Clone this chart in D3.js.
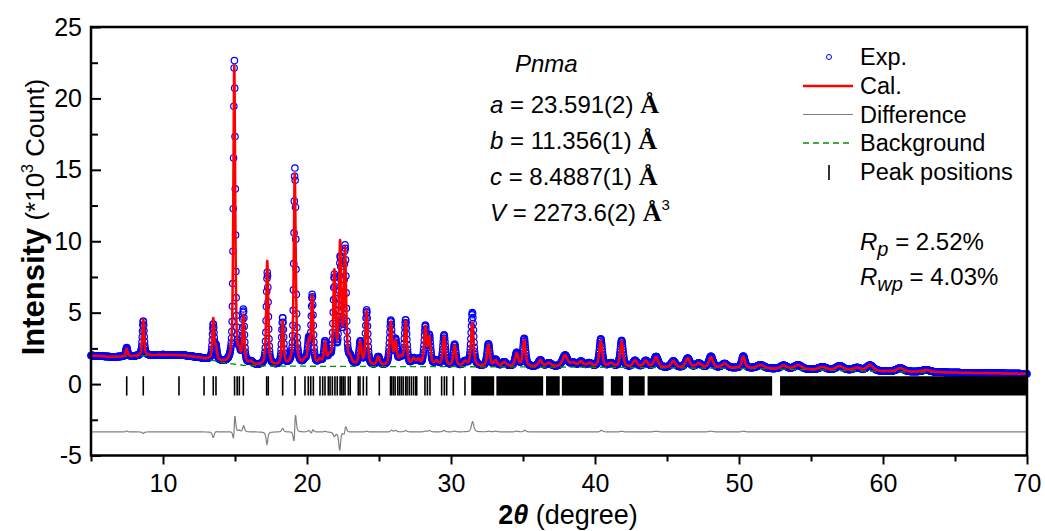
<!DOCTYPE html>
<html>
<head>
<meta charset="utf-8">
<script src="https://cdn.jsdelivr.net/npm/d3@7"></script>
<style>
  body { margin: 0; background: #fff; }
  svg { display: block; font-family: Arial, "Liberation Sans", sans-serif; }
</style>
</head>
<body>
<div id="chart"></div>
<script>
// axis ticks
const xMajorTicks = [10, 20, 30, 40, 50, 60, 70];
const xMinorTicks = [5, 15, 25, 35, 45, 55, 65];
const yMajorTicks = [-5, 0, 5, 10, 15, 20, 25];
const yMinorTicks = [-2.5, 2.5, 7.5, 12.5, 17.5, 22.5];

// background anchors (2theta, *10^3 counts)
const bgAngle = [5, 6.5, 8, 10, 11.5, 12.5, 13.5, 14.5, 15.5, 17, 20, 25, 30, 35, 40, 45, 50, 55, 60, 65, 70];
const bgLevel = [2.0, 1.9, 1.95, 2.05, 2.0, 1.85, 1.65, 1.45, 1.32, 1.27, 1.25, 1.23, 1.22, 1.2, 1.18, 1.14, 1.1, 1.0, 0.88, 0.8, 0.72];

const peakPos   = [7.48, 8.63, 13.49, 13.68, 14.95, 15.30, 15.58, 16.10, 17.24, 18.31, 19.15, 19.86, 20.12, 20.36, 20.90, 21.25, 21.55, 21.90, 22.30, 22.64, 23.00, 23.70, 24.14, 24.95, 25.82, 26.15, 26.50, 26.85, 27.40, 27.72, 28.22, 28.50, 29.00, 29.52, 30.25, 30.97, 31.48, 32.60, 33.10, 33.70, 34.56, 35.08, 36.20, 36.80, 37.92, 38.50, 39.03, 39.60, 40.40, 41.10, 41.85, 42.78, 43.52, 44.24, 45.44, 46.44, 47.20, 48.05, 49.00, 50.30, 51.5, 53.10, 54.10, 55.8, 57.00, 58.20, 59.10, 61.20, 63.0];
const peakObs   = [0.62, 2.45, 2.45, 0.9, 21.3, 0.7, 3.7, 0.2, 6.5, 3.3, 13.8, 0.3, 1.6, 4.8, 0.35, 1.55, 0.5, 6.1, 7.2, 8.1, 0.4, 1.6, 3.85, 0.6, 3.1, 1.7, 0.5, 3.15, 0.45, 0.4, 2.7, 2.0, 0.3, 2.15, 1.5, 0.3, 3.75, 1.55, 0.45, 0.3, 0.95, 1.95, 0.45, 0.25, 0.8, 0.25, 0.35, 0.25, 1.95, 0.25, 1.85, 0.45, 0.45, 0.75, 0.45, 0.65, 0.3, 0.8, 0.3, 0.85, 0.25, 0.25, 0.3, 0.2, 0.3, 0.2, 0.4, 0.25, 0.15];
const peakCal   = [0.55, 2.55, 2.85, 0.85, 20.8, 0.6, 3.3, 0.2, 7.3, 3.05, 13.4, 0.3, 1.5, 4.75, 0.35, 1.5, 0.5, 6.4, 8.3, 7.9, 0.4, 1.6, 3.8, 0.6, 3.0, 1.6, 0.5, 3.05, 0.45, 0.4, 2.65, 1.9, 0.3, 2.05, 1.45, 0.3, 3.05, 1.5, 0.4, 0.3, 0.9, 1.85, 0.45, 0.25, 0.8, 0.25, 0.35, 0.25, 1.85, 0.25, 1.8, 0.45, 0.45, 0.7, 0.45, 0.65, 0.3, 0.75, 0.3, 0.8, 0.25, 0.25, 0.3, 0.2, 0.3, 0.2, 0.4, 0.25, 0.15];
const peakWidth = [0.15, 0.15, 0.15, 0.16, 0.15, 0.16, 0.16, 0.3, 0.16, 0.16, 0.16, 0.25, 0.18, 0.17, 0.25, 0.18, 0.25, 0.18, 0.18, 0.18, 0.25, 0.2, 0.18, 0.25, 0.2, 0.2, 0.3, 0.2, 0.27, 0.27, 0.2, 0.2, 0.3, 0.21, 0.21, 0.3, 0.21, 0.22, 0.27, 0.35, 0.25, 0.22, 0.3, 0.4, 0.42, 0.4, 0.35, 0.4, 0.24, 0.4, 0.24, 0.35, 0.35, 0.35, 0.35, 0.35, 0.45, 0.33, 0.45, 0.27, 0.6, 0.5, 0.6, 0.6, 0.6, 0.6, 0.55, 0.6, 0.7];
const peakShift = [0, 0, 0, 0, 0.004, 0, 0.003, 0, 0.003, 0, 0.008, 0, 0, 0.003, 0, 0, 0, 0, 0.006, 0.004, 0, 0, 0, 0, 0.002, 0, 0, 0, 0, 0, 0, 0, 0, 0, 0, 0, 0.004, 0, 0, 0, 0, 0.003, 0, 0, 0, 0, 0, 0, 0.003, 0, 0, 0, 0, 0, 0, 0, 0, 0, 0, 0, 0, 0, 0, 0, 0, 0, 0, 0, 0];
const lorentzFrac = 0.6;

// Bragg reflection marks: single ticks, then dense bands
const reflections = [7.48, 8.63, 11.11, 12.85, 13.49, 13.68, 14.97, 15.15, 15.3, 15.58, 17.2, 17.31, 18.31, 19.17, 19.86, 20.09, 20.26, 20.44, 20.9, 21.09, 21.25, 21.48, 21.6, 21.76, 21.94, 22.1, 22.3, 22.41, 22.52, 22.64, 22.87, 23.0, 23.56, 23.68, 23.91, 24.14, 25.02, 25.8, 25.88, 26.0, 26.12, 26.3, 26.42, 26.55, 26.68, 26.85, 26.95, 27.1, 27.25, 27.4, 27.55, 27.62, 28.19, 28.36, 28.54, 29.35, 29.54, 29.7, 30.16, 30.97];
const reflectionBands = [[31.4, 33.0], [33.15, 36.4], [36.6, 37.55], [37.7, 40.6], [41.1, 41.95], [42.35, 43.45], [43.65, 52.3], [52.85, 70.0]];

const diffOffset = -3.35;

const width = 1045, height = 531,
      margin = {top: 27, right: 18, bottom: 75.5, left: 91};

const x = d3.scaleLinear().domain([5, 70]).range([margin.left, width - margin.right]);
const y = d3.scaleLinear().domain([-5, 25]).range([height - margin.bottom, margin.top]);
const bgScale = d3.scaleLinear().domain(bgAngle).range(bgLevel);

function profile(t, heights, shifted) {
  let s = bgScale(t);
  for (let i = 0; i < peakPos.length; i++) {
    const c = peakPos[i] + (shifted ? peakShift[i] : 0);
    const d = (t - c) / peakWidth[i];
    if (Math.abs(d) > 60) continue;
    s += heights[i] * ((1 - lorentzFrac) * Math.exp(-4 * Math.LN2 * d * d) + lorentzFrac / (1 + 4 * d * d));
  }
  return s;
}

const obsGrid = d3.range(5, 70.0001, 0.02);
const obsData = obsGrid.map(t => ({t, v: profile(t, peakObs, true)}));
const calData = d3.range(5, 70.0001, 0.005).map(t => ({t, v: profile(t, peakCal, false)}));
const diffData = obsGrid.map((t, i) => ({t, v: obsData[i].v - profile(t, peakCal, false) + diffOffset}));

const svg = d3.select("#chart")
  .append("svg")
    .attr("width", width)
    .attr("height", height);

// observed points
svg.append("g")
  .selectAll("circle")
  .data(obsData)
  .join("circle")
    .attr("cx", d => x(d.t))
    .attr("cy", d => y(d.v))
    .attr("r", 3.2)
    .attr("fill", "none")
    .attr("stroke", "#0000ff")
    .attr("stroke-width", 1.2);

// background
svg.append("path")
  .datum(bgAngle.map((a, i) => [a, bgLevel[i]]))
  .attr("fill", "none")
  .attr("stroke", "#009000")
  .attr("stroke-width", 1.3)
  .attr("stroke-dasharray", "6,4")
  .attr("d", d3.line().x(d => x(d[0])).y(d => y(d[1])));

// calculated
svg.append("path")
  .datum(calData)
  .attr("fill", "none")
  .attr("stroke", "#ff0000")
  .attr("stroke-width", 2.5)
  .attr("stroke-linejoin", "round")
  .attr("d", d3.line().x(d => x(d.t)).y(d => y(d.v)));

// difference
svg.append("path")
  .datum(diffData)
  .attr("fill", "none")
  .attr("stroke", "#808080")
  .attr("stroke-width", 1.2)
  .attr("d", d3.line().x(d => x(d.t)).y(d => y(d.v)));

// reflection ticks
const tickTop = 0.55, tickBottom = -0.8;
svg.append("g")
  .selectAll("line")
  .data(reflections)
  .join("line")
    .attr("x1", d => x(d)).attr("x2", d => x(d))
    .attr("y1", y(tickTop)).attr("y2", y(tickBottom))
    .attr("stroke", "#000")
    .attr("stroke-width", 1.6);

svg.append("g")
  .selectAll("rect")
  .data(reflectionBands)
  .join("rect")
    .attr("x", d => x(d[0]))
    .attr("width", d => x(d[1]) - x(d[0]))
    .attr("y", y(tickTop))
    .attr("height", y(tickBottom) - y(tickTop))
    .attr("fill", "#000");

// frame
svg.append("rect")
  .attr("x", x(5)).attr("y", y(25))
  .attr("width", x(70) - x(5)).attr("height", y(-5) - y(25))
  .attr("fill", "none")
  .attr("stroke", "#000")
  .attr("stroke-width", 2.5);

// axes
svg.append("g")
  .attr("transform", `translate(0,${y(-5)})`)
  .call(d3.axisBottom(x).tickValues(xMajorTicks).tickSize(9).tickPadding(10));
svg.append("g")
  .attr("transform", `translate(0,${y(-5)})`)
  .call(d3.axisBottom(x).tickValues(xMinorTicks).tickSize(6).tickFormat(""));
const yAxis = svg.append("g")
  .attr("transform", `translate(${x(5)},0)`)
  .call(d3.axisLeft(y).tickValues(yMajorTicks).tickSize(-10).tickPadding(9));
svg.append("g")
  .attr("transform", `translate(${x(5)},0)`)
  .call(d3.axisLeft(y).tickValues(yMinorTicks).tickSize(-7).tickFormat(""));

svg.selectAll(".domain").remove();
svg.selectAll(".tick line").attr("stroke", "#000").attr("stroke-width", 2);
svg.selectAll(".tick text")
  .attr("fill", "#000")
  .style("font-size", "25px")
  .style("font-family", "Arial, 'Liberation Sans', sans-serif");
yAxis.selectAll(".tick text").text(d => d < 0 ? "-" + Math.abs(d) : d);

// axis titles
const yTitle = svg.append("text")
  .attr("transform", "translate(44,217) rotate(-90)")
  .attr("text-anchor", "middle")
  .style("font-size", "26px");
yTitle.append("tspan").text("Intensity").style("font-weight", "bold").style("font-size", "31px");
yTitle.append("tspan").text(" (*10");
yTitle.append("tspan").text("3").style("font-size", "16px").attr("dy", -11);
yTitle.append("tspan").text(" Count)").attr("dy", 11);

const xTitle = svg.append("text")
  .attr("x", 568).attr("y", 524)
  .attr("text-anchor", "middle")
  .style("font-size", "27px");
xTitle.append("tspan").text("2").style("font-weight", "bold");
xTitle.append("tspan").text("θ").style("font-weight", "bold").style("font-style", "italic");
xTitle.append("tspan").text(" (degree)");

// cell parameters
const cellLabels = ["a", "b", "c", "V"];
const cellValues = [" = 23.591(2) ", " = 11.356(1) ", " = 8.4887(1) ", " = 2273.6(2) "];
const cellY = [113, 149, 185, 221];

svg.append("text")
  .attr("x", 515).attr("y", 72)
  .style("font-size", "24px").style("font-style", "italic")
  .text("Pnma");

cellLabels.forEach((lab, i) => {
  const t = svg.append("text")
    .attr("x", 490).attr("y", cellY[i])
    .style("font-size", "24px");
  t.append("tspan").text(lab).style("font-style", "italic");
  t.append("tspan").text(cellValues[i]);
  t.append("tspan").text("Å")
    .style("font-family", "'Liberation Serif', 'Times New Roman', serif")
    .style("font-weight", "bold")
    .style("font-size", "26px");
  if (lab === "V") {
    t.append("tspan").text("3").style("font-size", "15px").attr("dy", -11);
  }
});

// legend
const legendNames = ["Exp.", "Cal.", "Difference", "Background", "Peak positions"];
const legendY = [65, 94, 122.5, 151, 180];
const lg = svg.append("g").style("font-size", "23.5px");
legendNames.forEach((name, i) => {
  const cy = legendY[i] - 8;
  if (i === 0) {
    lg.append("circle").attr("cx", 829).attr("cy", cy).attr("r", 2.5)
      .attr("fill", "none").attr("stroke", "#0000ff").attr("stroke-width", 1);
  } else if (i === 4) {
    lg.append("line").attr("x1", 829).attr("x2", 829).attr("y1", cy - 7).attr("y2", cy + 8)
      .attr("stroke", "#000").attr("stroke-width", 1.6);
  } else {
    lg.append("line").attr("x1", 803).attr("x2", 853).attr("y1", cy).attr("y2", cy)
      .attr("stroke", ["", "#ff0000", "#808080", "#009000"][i])
      .attr("stroke-width", [0, 2.5, 1.2, 1.3][i])
      .attr("stroke-dasharray", i === 3 ? "6,4" : null);
  }
  lg.append("text").attr("x", 860).attr("y", legendY[i]).text(name);
});

// agreement factors
const rNames = ["p", "wp"], rValues = [" = 2.52%", " = 4.03%"], rY = [250, 285];
rNames.forEach((sub, i) => {
  const t = svg.append("text").attr("x", 860).attr("y", rY[i]).style("font-size", "24px");
  t.append("tspan").text("R").style("font-style", "italic");
  t.append("tspan").text(sub).style("font-style", "italic").style("font-size", "20px").attr("dy", 6);
  t.append("tspan").text(rValues[i]).attr("dy", -6);
});
</script>
</body>
</html>
